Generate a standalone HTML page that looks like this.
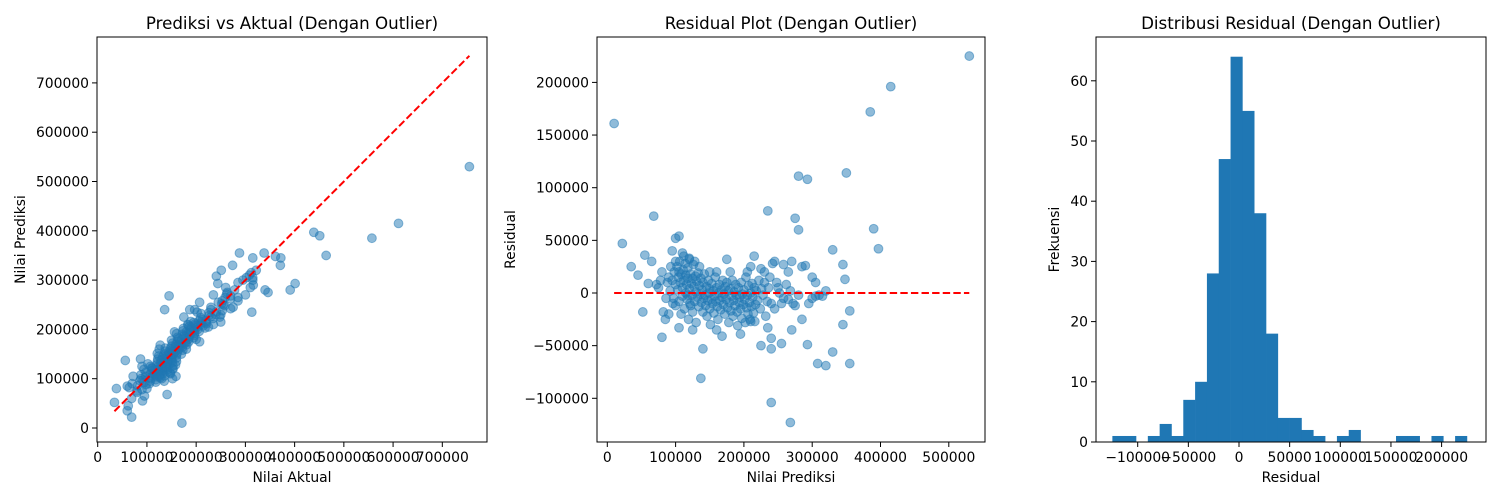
<!DOCTYPE html>
<html><head><meta charset="utf-8"><style>
body{margin:0;background:#fff;}
svg{display:block;font-family:"DejaVu Sans","Liberation Sans",sans-serif;}
</style></head><body>
<svg id="c" width="1500" height="500"></svg>
<script>
// residual plot data (predicted value in thousands, residual in thousands); actual = pred + resid
const predK = [10,530,415,385,280,293,350,390,397,235,275,280,68,22,35,55,52,80,137,240,268,308,320,330,355,345,355,330,345,348,293,255,225,240,240,270,235,285,160,140,125,105,168,195,210,60,75,80,45,90,85,100,105,95,120,110,258,265,270,285,290,300,305,310,305,315,320,295,300,250,255,265,275,280,245,230,225,215,205,210,175,180,150,160,
95,97,98,100,100,102,103,104,105,106,107,108,108,110,110,111,112,113,114,115,115,116,117,118,118,119,120,120,121,122,123,124,125,125,126,127,128,129,130,130,131,132,133,134,135,136,137,138,139,140,140,141,142,143,144,145,146,147,148,149,150,150,151,152,153,154,155,156,157,158,159,160,161,162,163,164,165,166,167,168,169,170,171,172,173,174,175,176,177,178,179,180,181,182,183,184,185,186,187,188,189,190,191,192,193,194,195,196,197,198,199,200,201,202,203,204,205,206,207,208,209,210,211,212,213,214,215,216,217,218,220,222,224,226,228,230,232,234,236,238,240,242,245,248,252,258,262,268,272,100,105,112,118,122,128,135,86,88,92,93,96,90,82,78,72,65];
const residK = [161,225,196,172,111,108,114,61,42,78,71,60,73,47,25,36,-18,-42,-81,-104,-123,-67,-69,-56,-67,-30,-17,41,27,13,-49,-48,-50,-53,-43,-35,-33,-25,-35,-53,-35,-33,-41,-39,-27,9,5,20,17,-20,-25,52,54,40,33,38,27,20,30,25,26,15,10,-2,-3,-3,2,-10,-5,5,-10,-6,-12,-2,30,20,23,35,20,25,32,20,20,20,
12,-5,20,8,-12,25,3,15,-8,30,10,-20,18,5,-3,22,12,-15,28,0,17,8,-6,24,14,-25,4,32,-10,18,9,-2,14,-18,27,6,-8,16,1,-28,11,-4,19,-13,7,-1,14,-9,3,-18,10,-5,18,-2,-12,6,-22,-7,12,0,-15,4,-30,-6,9,-10,2,-19,-3,15,-8,5,-13,-25,0,8,-7,-16,3,-4,12,-11,-1,-20,6,-6,10,-14,2,-28,-9,4,-17,-3,12,-22,-7,1,-12,8,-2,-18,-31,5,-9,-4,-15,10,-24,-1,-11,3,-6,-28,15,-14,-2,-20,7,-9,-25,0,-13,9,-4,-19,5,-27,-11,2,-7,12,-15,4,-2,10,-22,-8,5,15,-10,28,-15,10,0,-5,8,2,-10,30,20,35,-2,-12,30,25,-5,10,2,25,-10,15,-18,12,8,30];
// histogram counts (30 bins from -125000 to 225000)
const histCounts = [1,1,0,1,3,1,7,10,28,47,64,55,38,18,4,4,2,1,0,1,2,0,0,0,1,1,0,1,0,1];
const histMin = -125000, histMax = 225000;
const p1Ticks = [0,100000,200000,300000,400000,500000,600000,700000];
const p2XTicks = [0,100000,200000,300000,400000,500000];
const p2YTicks = [-100000,-50000,0,50000,100000,150000,200000];
const p3XTicks = [-100000,-50000,0,50000,100000,150000,200000];
const p3YTicks = [0,10,20,30,40,50,60];

const NS="http://www.w3.org/2000/svg", svg=document.getElementById('c');
function mk(t,a,p){const e=document.createElementNS(NS,t);for(const k in a)e.setAttribute(k,a[k]);(p||svg).appendChild(e);return e;}
function txt(x,y,s,a,p){const e=mk('text',Object.assign({x:x,y:y,fill:'#000','font-size':13.9},a),p);e.textContent=s;return e;}

const P1={L:97,R:487,T:37,B:442,x:v=>97.7+v*49.23/100000,y:v=>428-v*49.3/100000};
const P2={L:597,R:985,T:37,B:442,x:v=>607.3+v*68.3/100000,y:v=>293-v*105.3/100000};
const P3={L:1096,R:1486,T:37,B:442,x:v=>1239+v*101.3/100000,y:v=>442-v*6.02};

function frame(P,name,title,xl,yl,xt,yt,ylx){
  const g=mk('g',{});
  
  
  const t=txt((P.L+P.R)/2,29,title,{'text-anchor':'middle','font-size':16.7},g);
  
  xt.forEach(v=>{const X=P.x(v);mk('line',{x1:X,x2:X,y1:P.B,y2:P.B+5,stroke:'#000'},g);
    const l=txt(X,P.B+20,String(v).replace('-','\u2212'),{'text-anchor':'middle'},g);});
  yt.forEach(v=>{const Y=P.y(v);mk('line',{x1:P.L-5,x2:P.L,y1:Y,y2:Y,stroke:'#000'},g);
    const l=txt(P.L-8,Y+5,String(v).replace('-','\u2212'),{'text-anchor':'end'},g);});
  const a=txt((P.L+P.R)/2,P.B+40,xl,{'text-anchor':'middle'},g);
  const b=txt(ylx,(P.T+P.B)/2,yl,{'text-anchor':'middle',transform:`rotate(-90 ${ylx} ${(P.T+P.B)/2})`},g);
  return g;
}
function border(P){const r=mk('rect',{x:P.L,y:P.T,width:P.R-P.L,height:P.B-P.T,fill:'none',stroke:'#000','stroke-width':1});
  }

// Panel 1
frame(P1,'pred-vs-actual-panel','Prediksi vs Aktual (Dengan Outlier)','Nilai Aktual','Nilai Prediksi',p1Ticks,p1Ticks,25);
const actual=predK.map((p,i)=>(p+residK[i])*1000), pred=predK.map(p=>p*1000), resid=residK.map(r=>r*1000);
for(let i=0;i<pred.length;i++){
  const c=mk('circle',{cx:P1.x(actual[i]),cy:P1.y(pred[i]),r:4.4,fill:'#1f77b4','fill-opacity':0.5,stroke:'#1f77b4','stroke-opacity':0.5});
  
  
}
const amin=Math.min(...actual),amax=Math.max(...actual);
const dl=mk('line',{x1:P1.x(amin),y1:P1.y(amin),x2:P1.x(amax),y2:P1.y(amax),stroke:'red','stroke-width':2,'stroke-dasharray':'7.4,3.2'});

border(P1);

// Panel 2
frame(P2,'residual-plot-panel','Residual Plot (Dengan Outlier)','Nilai Prediksi','Residual',p2XTicks,p2YTicks,515);
for(let i=0;i<pred.length;i++){
  const c=mk('circle',{cx:P2.x(pred[i]),cy:P2.y(resid[i]),r:4.4,fill:'#1f77b4','fill-opacity':0.5,stroke:'#1f77b4','stroke-opacity':0.5});
  
  
}
const pmin=Math.min(...pred),pmax=Math.max(...pred);
const zl=mk('line',{x1:P2.x(pmin),y1:P2.y(0),x2:P2.x(pmax),y2:P2.y(0),stroke:'red','stroke-width':2,'stroke-dasharray':'7.4,3.2'});

border(P2);

// Panel 3
frame(P3,'residual-histogram-panel','Distribusi Residual (Dengan Outlier)','Residual','Frekuensi',p3XTicks,p3YTicks,1059);
const bw=(histMax-histMin)/histCounts.length;
histCounts.forEach((n,i)=>{
  if(!n)return;
  const x0=P3.x(histMin+i*bw),x1=P3.x(histMin+(i+1)*bw);
  const r=mk('rect',{x:x0,y:P3.y(n),width:x1-x0+0.3,height:P3.y(0)-P3.y(n),fill:'#1f77b4'});
  
  
});
border(P3);
</script>
</body></html>
